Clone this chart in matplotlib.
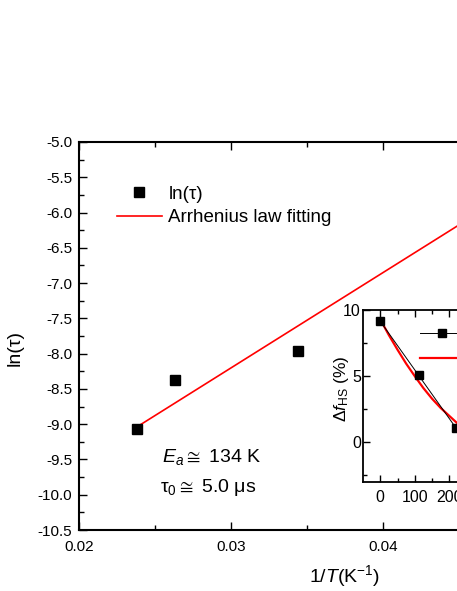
import numpy as np
import matplotlib
matplotlib.use("Agg")
import matplotlib.pyplot as plt

plt.rcParams['font.family'] = ['Liberation Sans', 'DejaVu Sans']
plt.rcParams['mathtext.fontset'] = 'custom'
plt.rcParams['mathtext.rm'] = 'Liberation Sans'
plt.rcParams['mathtext.it'] = 'Liberation Sans:italic'
plt.rcParams['mathtext.bf'] = 'Liberation Sans:bold'
plt.rcParams['mathtext.fallback'] = 'stixsans'

# datos principales: ln(tau) vs 1/T
inv_T = [0.0238, 0.0263, 0.0344]
ln_tau = [-9.07, -8.38, -7.96]

# ajuste de Arrhenius (recta)
fit_x = [0.0238, 0.0500]
fit_y = [-9.04, -5.50]

# inset: delta f_HS
ins_x = [0, 111, 219]
ins_y = [9.15, 5.07, 1.10]
ins_fit_x = [0, 25, 50, 75, 100, 125, 150, 175, 200, 225, 250]
ins_fit_y = [9.3, 8.1, 7.0, 5.95, 5.0, 4.1, 3.3, 2.6, 2.0, 1.4, 0.9]

fig = plt.figure(figsize=(4.57, 5.91), dpi=100)

# ejes principales (se salen por la derecha, como en la original)
ax = fig.add_axes([79/457, 61/591, 456/457, 388/591])
ax.plot(fit_x, fit_y, color='#ff0000', lw=1.2, label='Arrhenius law fitting', zorder=2)
ax.plot(inv_T, ln_tau, 's', color='black', ms=6.5, label='ln(τ)', zorder=3)

ax.set_xlim(0.02, 0.05)
ax.set_ylim(-10.5, -5.0)
ax.set_xticks([0.02, 0.03, 0.04, 0.05])
ax.set_xticklabels(['0.02', '0.03', '0.04', '0.05'])
ax.set_xticks([0.025, 0.035, 0.045], minor=True)
ax.set_yticks(np.arange(-10.5, -4.99, 0.5))
ax.set_yticklabels(['%.1f' % v for v in np.arange(-10.5, -4.99, 0.5)])
ax.set_yticks(np.arange(-10.25, -5.0, 0.5), minor=True)
ax.tick_params(which='both', direction='in', top=True, right=True, width=1.0)
ax.tick_params(which='major', length=6)
ax.tick_params(which='minor', length=3.5)
ax.tick_params(axis='x', which='major', labelsize=11, pad=7)
ax.tick_params(axis='y', which='major', labelsize=11, pad=5)
for s in ax.spines.values():
    s.set_linewidth(1.5)

ax.set_xlabel(r'1/$\mathit{T}$(K$^{-1}$)', fontsize=14)
ax.xaxis.set_label_coords((345 - 79) / 456, -0.085)
ax.set_ylabel('ln(τ)', fontsize=14)
ax.yaxis.set_label_coords(-0.122, 0.47)

handles, labels = ax.get_legend_handles_labels()
ax.legend(handles[::-1], labels[::-1], loc='upper left', bbox_to_anchor=(0.083, 0.887),
          frameon=False, fontsize=13.5, borderpad=0, borderaxespad=0,
          handlelength=2.4, handletextpad=0.35, labelspacing=0.32)

ax.text(0.183, 0.188, r'$E_a\cong$ 134 K', transform=ax.transAxes, fontsize=14,
        va='center', ha='left')
ax.text(0.178, 0.11, r'τ$_0\cong$ 5.0 μs', transform=ax.transAxes, fontsize=14,
        va='center', ha='left')

# inset
axi = fig.add_axes([363/457, 109/591, 138/457, 172/591])
axi.plot(ins_x, ins_y, '-s', color='black', lw=0.7, ms=6, mfc='black', label='Experiment', zorder=3)
axi.plot(ins_fit_x, ins_fit_y, color='#ff0000', lw=1.6, label='Fit', zorder=2)
axi.set_xlim(-50, 350)
axi.set_ylim(-3, 10)
axi.set_xticks([0, 100, 200, 300])
axi.set_xticks([50, 150, 250], minor=True)
axi.set_yticks([0, 5, 10])
axi.set_yticks([-2.5, 2.5, 7.5], minor=True)
axi.tick_params(which='both', direction='in', top=True, right=True, width=1.0)
axi.tick_params(which='major', length=5, labelsize=11.5)
axi.tick_params(which='minor', length=3)
axi.tick_params(axis='x', pad=6)
axi.tick_params(axis='y', pad=1.5)
for s in axi.spines.values():
    s.set_linewidth(1.3)
axi.set_ylabel(r'Δ$\mathit{f}_{\mathrm{HS}}$ (%)', fontsize=12.5)
axi.yaxis.set_label_coords(-0.09, 0.54)
axi.legend(loc='upper left', bbox_to_anchor=(0.41, 0.90), frameon=False, fontsize=11,
           borderpad=0, borderaxespad=0, handlelength=2.9, labelspacing=0.75)

fig.savefig('out.png', dpi=100)
